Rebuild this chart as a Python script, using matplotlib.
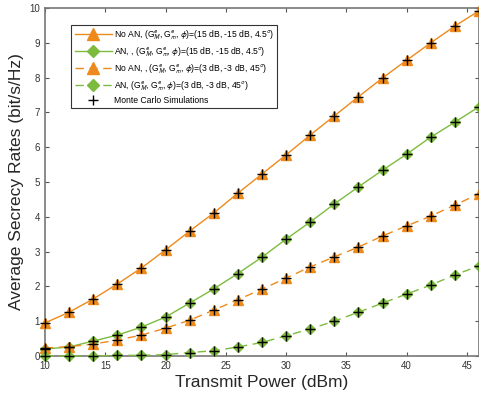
import matplotlib
matplotlib.use("Agg")
import matplotlib.pyplot as plt
from matplotlib.lines import Line2D

plt.rcParams['font.family'] = ['Liberation Sans', 'DejaVu Sans']
plt.rcParams['mathtext.fontset'] = 'stixsans'

power = [10, 12, 14, 16, 18, 20, 22, 24, 26, 28, 30, 32, 34, 36, 38, 40, 42, 44, 46]
noan_15 = [0.95, 1.26, 1.64, 2.07, 2.53, 3.05, 3.59, 4.11, 4.68, 5.23, 5.78, 6.35, 6.9, 7.45, 7.99, 8.5, 9.0, 9.48, 9.92]
an_15 = [0.2, 0.26, 0.43, 0.6, 0.83, 1.12, 1.52, 1.93, 2.37, 2.84, 3.36, 3.85, 4.37, 4.86, 5.34, 5.8, 6.29, 6.72, 7.16]
noan_3 = [0.23, 0.27, 0.34, 0.46, 0.6, 0.8, 1.03, 1.32, 1.62, 1.92, 2.24, 2.56, 2.85, 3.13, 3.45, 3.74, 4.02, 4.34, 4.66]
an_3 = [0.0, 0.0, 0.0, 0.02, 0.02, 0.04, 0.1, 0.15, 0.26, 0.39, 0.58, 0.78, 1.0, 1.26, 1.52, 1.78, 2.04, 2.33, 2.59]

xticks = [10, 15, 20, 25, 30, 35, 40, 45]
yticks = [0, 1, 2, 3, 4, 5, 6, 7, 8, 9, 10]

orange = '#EE8A1C'
green = '#7DBB3F'
par = r'(G$^{e}_{M}$, G$^{e}_{m}$, $\phi$)'
labels = [
    'No AN, ' + par + r'=(15 dB, -15 dB, 4.5$^{o}$)',
    'AN, , ' + par + r'=(15 dB, -15 dB, 4.5$^{o}$)',
    'No AN, , ' + par + r'=(3 dB, -3 dB, 45$^{o}$)',
    'AN, ' + par + r'=(3 dB, -3 dB, 45$^{o}$)',
    'Monte Carlo Simulations',
]

fig = plt.figure(figsize=(4.79, 4.0), dpi=100)
ax = fig.add_axes([0.094, 0.11, 0.906, 0.87])

dash = (0, (6, 4))
series = [
    (noan_15, orange, '-', '^'),
    (an_15, green, '-', 'D'),
    (noan_3, orange, dash, '^'),
    (an_3, green, dash, 'D'),
]
handles = []
for ys, c, ls, m in series:
    ms = 7 if m == '^' else 5.5
    ax.plot(power, ys, color=c, linestyle=ls, linewidth=1.0, marker=m,
            markersize=ms, markerfacecolor=c, markeredgecolor=c, clip_on=False, zorder=3)
    lms = 8 if m == '^' else 6.5
    handles.append(Line2D([], [], color=c, linestyle=ls, linewidth=1.0, marker=m,
                          markersize=lms, markerfacecolor=c, markeredgecolor=c))
for ys, c, ls, m in series:
    ax.plot(power, ys, linestyle='none', marker='+', color='black',
            markersize=7, markeredgewidth=1.0, clip_on=False, zorder=4)
handles.append(Line2D([], [], linestyle='none', marker='+', color='black',
                      markersize=7, markeredgewidth=1.0))

ax.set_xlim(10, 46)
ax.set_ylim(0, 10)
ax.set_xticks(xticks)
ax.set_yticks(yticks)
ax.tick_params(direction='in', length=3, width=0.8, colors='#555555', labelsize=7,
               top=True, right=True, labelcolor='#333333')
for s in ax.spines.values():
    s.set_color('#777777')
    s.set_linewidth(1.2)
ax.set_xlabel('Transmit Power (dBm)', fontsize=12.5, color='#262626', labelpad=3)
ax.set_ylabel('Average Secrecy Rates (bit/s/Hz)', fontsize=12.5, color='#262626', labelpad=4)

leg = ax.legend(handles, labels, loc='upper left', bbox_to_anchor=(0.06, 0.951),
                fontsize=6.2, frameon=True, fancybox=False, edgecolor='black',
                handlelength=4.3, borderpad=0.4, labelspacing=0.45, handletextpad=0.3,
                borderaxespad=0)
leg.get_frame().set_linewidth(0.8)

fig.savefig('out.png', dpi=100)
